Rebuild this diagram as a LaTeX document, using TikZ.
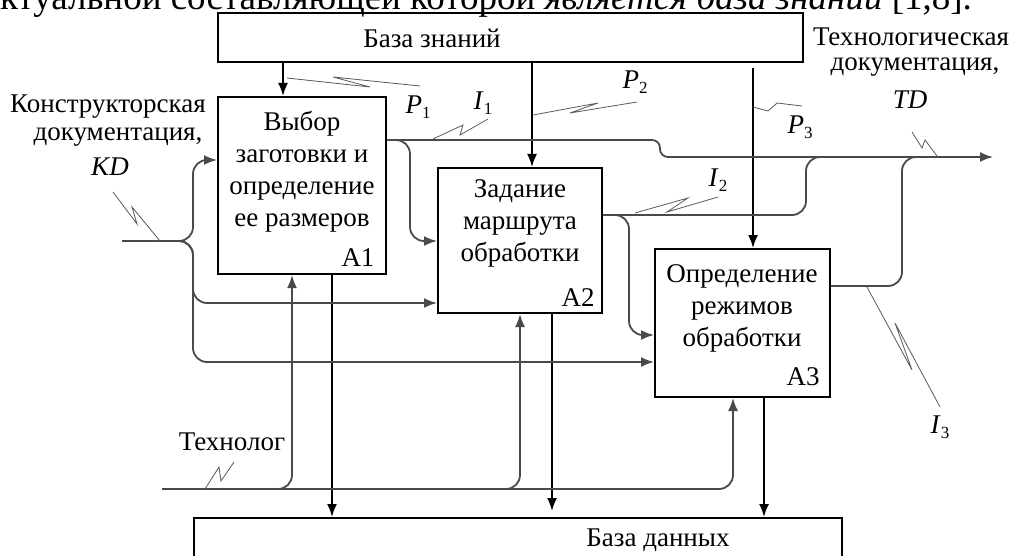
\documentclass[tikz,border=0pt]{standalone}
\usepackage{fontspec}
\setmainfont{Liberation Serif}
\usetikzlibrary{arrows.meta}
\definecolor{flowc}{HTML}{4A4A4A}
\definecolor{leadc}{HTML}{5A5A5A}
\newcommand\dsub[1]{\raisebox{-5pt}{\fontsize{17}{17}\selectfont #1}}
\begin{document}
\begin{tikzpicture}[x=1pt,y=-1pt,
  lbl/.style={font=\fontsize{27}{32}\selectfont, inner sep=0pt, align=center},
  box/.style={draw=black, line width=2pt, inner sep=0pt},
  flow/.style={draw=flowc, line width=1.8pt, rounded corners=14pt},
  ctrl/.style={draw=black, line width=1.8pt},
  gtip/.style={-{Latex[length=13pt,width=10pt]}},
  lead/.style={draw=leadc, line width=0.8pt},
]
\clip (0,0) rectangle (1014,556);
\fill[white] (0,0) rectangle (1014,556);

% cut-off line of text above the figure
\node[anchor=base west, inner sep=0pt, font=\fontsize{37}{37}\selectfont] (toptext) at (0,10)
  {ктуальной составляющей которой \textit{является база знаний} [1,8].};

% boxes
\node[box, minimum width=585pt, minimum height=49pt] (KB) at (510.5,37.5) {};
\node[box, minimum width=168pt, minimum height=177pt] (A1) at (302,185.5) {};
\node[box, minimum width=164pt, minimum height=145pt] (A2) at (520,240.5) {};
\node[box, minimum width=175pt, minimum height=148pt] (A3) at (742.5,323) {};
\node[box, minimum width=648pt, minimum height=82pt] (DB) at (518,559) {};

% texts
\node[lbl] (tKB) at (432,38) {База знаний};
\node[lbl] (tDB) at (658,540) {База данных};
\node[lbl] (tA1) at (302,172) {Выбор\\заготовки и\\определение\\ее размеров};
\node[lbl] (tA2) at (520,223) {Задание\\маршрута\\обработки};
\node[lbl] (tA3) at (742,308) {Определение\\режимов\\обработки};
\node[lbl] (nA1) at (358,258) {А1};
\node[lbl] (nA2) at (578,298) {А2};
\node[lbl] (nA3) at (803,377) {А3};
\node[lbl] (kd1) at (108,107) {Конструкторская};
\node[lbl] (kd2) at (118,137) {документация,};
\node[lbl] (kd3) at (110,167) {\textit{KD}};
\node[lbl] (td1) at (911,37) {Технологическая};
\node[lbl] (td2) at (915,67) {документация,};
\node[lbl] (td3) at (910,100) {\textit{TD}};
\node[lbl] (tech) at (232,442) {Технолог};
\node[lbl] (lP1) at (418,107) {\textit{P}\dsub{1}};
\node[lbl] (lI1) at (483,103) {\textit{I}\dsub{1}};
\node[lbl] (lP2) at (635,82) {\textit{P}\dsub{2}};
\node[lbl] (lP3) at (800,127) {\textit{P}\dsub{3}};
\node[lbl] (lI2) at (718,180) {\textit{I}\dsub{2}};
\node[lbl] (lI3) at (940,427) {\textit{I}\dsub{3}};

% reference coordinates
\coordinate (xp1) at (283,0);
\coordinate (xp2) at (532,0);
\coordinate (xp3) at (753,0);
\coordinate (p3s) at (753,68);
\coordinate (xo1) at (332,0);
\coordinate (xo2) at (552,0);
\coordinate (o2e) at (552,511);
\coordinate (xo3) at (764,0);
\coordinate (xm1) at (292,0);
\coordinate (xm2) at (520,0);
\coordinate (xm3) at (733,0);
\coordinate (kd0) at (122,241);
\coordinate (kdj) at (193,241);
\coordinate (yA1in) at (0,160);
\coordinate (yA2a) at (0,241);
\coordinate (yA2b) at (0,303);
\coordinate (yA3a) at (0,335);
\coordinate (yA3b) at (0,362);
\coordinate (yA1o) at (0,140);
\coordinate (yA2o) at (0,215);
\coordinate (yA3o) at (0,286);
\coordinate (tdend) at (993,157);
\coordinate (tk0) at (162,489);

% controls
\draw[ctrl, gtip] (KB.south -| xp1) -- (A1.north -| xp1);
\draw[ctrl, gtip] (KB.south -| xp2) -- (A2.north -| xp2);
\draw[ctrl, gtip] (p3s) -- (A3.north -| xp3);

% outputs to database
\draw[ctrl, gtip] (A1.south -| xo1) -- (DB.north -| xo1);
\draw[ctrl, gtip] (A2.south -| xo2) -- (o2e);
\draw[ctrl, gtip] (A3.south -| xo3) -- (DB.north -| xo3);

% input KD
\draw[flow, gtip] (kd0) -- (kdj) -- (kdj |- yA1in) -- (A1.west |- yA1in);
\draw[flow, gtip] (kd0) -- (kdj) -- (kdj |- yA2b) -- (A2.west |- yA2b);
\draw[flow, gtip] (kd0) -- (kdj) -- (kdj |- yA3b) -- (A3.west |- yA3b);

% A1 outputs
\draw[flow, gtip] (A1.east |- yA1o) -- (410,140) -- (410,241) -- (A2.west |- yA2a);
\draw[flow, rounded corners=8pt, gtip] (A1.east |- yA1o) -- (660,140) -- (660,157) -- (tdend);

% A2 outputs
\draw[flow] (A2.east |- yA2o) -- (806,215) -- (806,157) -- (840,157);
\draw[flow, gtip] (A2.east |- yA2o) -- (629,215) -- (629,335) -- (A3.west |- yA3a);

% A3 output
\draw[flow] (A3.east |- yA3o) -- (902,286) -- (902,157) -- (930,157);

% mechanism
\draw[flow, gtip] (tk0) -- (xm1 |- tk0) -- (A1.south -| xm1);
\draw[flow, gtip] (tk0) -- (xm2 |- tk0) -- (A2.south -| xm2);
\draw[flow, gtip] (tk0) -- (xm3 |- tk0) -- (A3.south -| xm3);

% squiggle leaders
\draw[lead] (287,78) -- (370,87) -- (333,77) -- (420,86);
\draw[lead] (433,139) -- (463,125) -- (460,135) -- (488,119);
\draw[lead] (533,115) -- (598,103) -- (570,113) -- (637,102);
\draw[lead] (753,107) -- (768,111) -- (777,103) -- (802,106);
\draw[lead] (635,213) -- (688,198) -- (667,212) -- (718,197);
\draw[lead] (867,287) -- (912,370) -- (895,323) -- (940,407);
\draw[lead] (912,132) -- (922,148) -- (925,140) -- (937,156);
\draw[lead] (113,192) -- (137,224) -- (132,207) -- (160,241);
\draw[lead] (205,489) -- (219,467) -- (221,481) -- (234,462);
\end{tikzpicture}
\end{document}
